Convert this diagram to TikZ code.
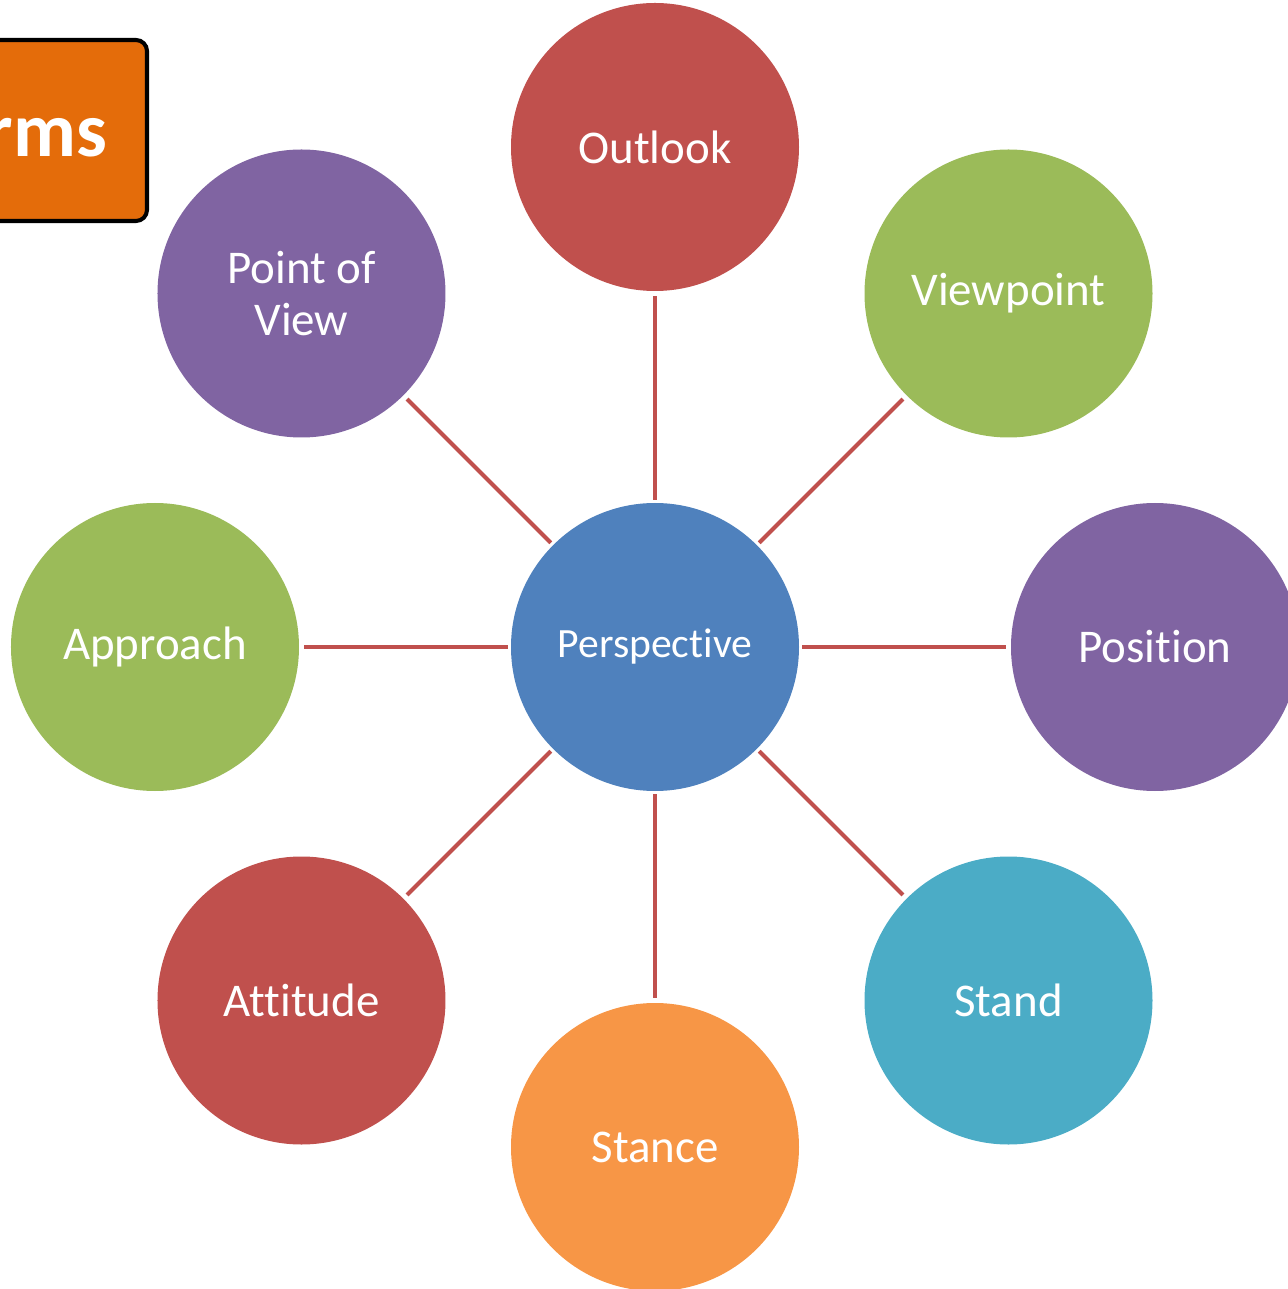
\documentclass[tikz,border=0pt]{standalone}
\usepackage{fontspec}
\setmainfont[RawFeature={-liga;-clig;-calt;-dlig}]{Carlito}
\usepackage{tikz}
\usetikzlibrary{positioning}

\definecolor{offred}{HTML}{C0504D}
\definecolor{offgreen}{HTML}{9BBB59}
\definecolor{offpurple}{HTML}{8064A2}
\definecolor{offaqua}{HTML}{4BACC6}
\definecolor{offorange}{HTML}{F79646}
\definecolor{offblue}{HTML}{4F81BD}
\definecolor{termorange}{HTML}{E46C0A}

\tikzset{
	bubble/.style = {circle, minimum size = 5.76cm, inner sep = 0pt, text = white, align = center, font = \fontsize{26.7}{29.6}\selectfont},
	spoke/.style = {draw = offred, line width = 2.3pt, shorten < = 0.06cm, shorten > = 0.1cm}
}

\begin{document}
\begin{tikzpicture}
			\useasboundingbox (-13.1,-12.84) rectangle (12.64,12.94);
			\draw[line width = 2.3pt, fill = termorange, rounded corners = 0.22cm] (-14,8.52) rectangle (-10.16,12.14);
			\node[anchor = base east, inner sep = 0pt, text = white, font = \fontsize{44}{50}\selectfont\bfseries] (terms) at (-10.95,9.8) {rms};

			\node[bubble, fill = offblue, font = \fontsize{23.7}{28}\selectfont] (persp) at (0,0) {Perspective};
			\begin{scope}[on grid]
				\node[bubble, fill = offred, above = 10cm of persp] (outlook) {Outlook};
				\node[bubble, fill = offgreen, above right = 7.07cm and 7.07cm of persp] (viewpoint) {Viewpoint};
				\node[bubble, fill = offpurple, right = 10cm of persp] (position) {Position};
				\node[bubble, fill = offaqua, below right = 7.07cm and 7.07cm of persp] (stand) {Stand};
				\node[bubble, fill = offorange, below = 10cm of persp] (stance) {Stance};
				\node[bubble, fill = offred, below left = 7.07cm and 7.07cm of persp] (attitude) {Attitude};
				\node[bubble, fill = offgreen, left = 10cm of persp] (approach) {Approach};
				\node[bubble, fill = offpurple, above left = 7.07cm and 7.07cm of persp] (pov) {Point of\\View};
			\end{scope}

			\foreach \n in {outlook, viewpoint, position, stand, stance, attitude, approach, pov}
				\draw[spoke] (persp) -- (\n);
		\end{tikzpicture}
\end{document}
